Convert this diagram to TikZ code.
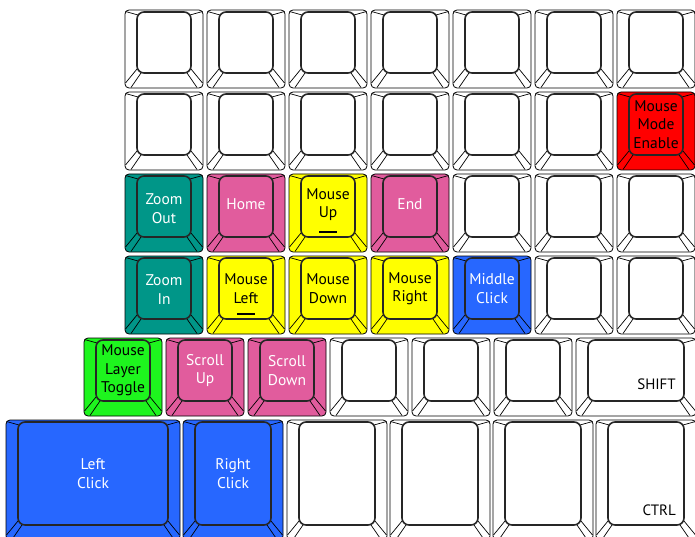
\documentclass[tikz,border=0pt]{standalone}
\usepackage{fontspec}
\setmainfont{PT Sans}
\usetikzlibrary{calc}
\definecolor{capteal}{HTML}{009688}
\definecolor{cappink}{HTML}{E15C9D}
\definecolor{capyellow}{HTML}{FFFF00}
\definecolor{capblue}{HTML}{2767FF}
\definecolor{capred}{HTML}{FF0000}
\definecolor{capgreen}{HTML}{1EF51E}
\tikzset{
  capedge/.style={draw=black, line width=0.8pt, rounded corners=4pt},
  captop/.style={draw=black!85, line width=1.6pt, rounded corners=7pt},
  capfacet/.style={draw=black, line width=0.7pt},
  keylabel/.style={align=center, inner sep=0pt, font=\fontsize{15.5}{18.5}\selectfont},
  modlabel/.style={anchor=east, inner sep=0pt, font=\fontsize{15}{16}\selectfont},
  homebar/.style={line width=2pt},
}
% one keycap: x, y, width, height, colour, name
\newcommand{\keycap}[6]{%
  \begin{scope}[shift={(#1,#2)}]
    \path[capedge, fill=#5] (0,0) rectangle (#3,#4);
    \draw[capfacet] (0.5,1.5) -- (13,5) (#3-0.5,1.5) -- (#3-13,5)
      (12,#4-19) -- (0.5,#4-5) (16,#4-15) -- (6,#4-0.5)
      (#3-12,#4-19) -- (#3-0.5,#4-5) (#3-16,#4-15) -- (#3-6,#4-0.5);
    \path[captop, fill=#5] (12,2) rectangle (#3-12,#4-15);
    \coordinate (#6) at (#3/2,#4/2-6.5);
    \coordinate (#6-corner) at (#3-20,#4-32);
  \end{scope}}

\begin{document}
\begin{tikzpicture}[x=1pt, y=-1pt]
  \path[use as bounding box] (0,0) rectangle (695,537);
  \clip (0,0) rectangle (695,537);

  % top two rows
  \foreach \kx [count=\i] in {125,207,289,371,453,535}{
    \keycap{\kx}{10}{78}{78}{white}{r1c\i}
    \keycap{\kx}{92}{78}{78}{white}{r2c\i}
  }
  \keycap{617}{10}{78}{78}{white}{r1c7}
  \keycap{617}{92}{78}{78}{capred}{mousemode}

  % mouse keys
  \foreach \kx/\kcol/\kname in {125/capteal/zoomout, 207/cappink/home,
      289/capyellow/mouseup, 371/cappink/end, 453/white/r3c5,
      535/white/r3c6, 617/white/r3c7}
    \keycap{\kx}{174}{78}{78}{\kcol}{\kname};
  \foreach \kx/\kcol/\kname in {125/capteal/zoomin, 207/capyellow/mouseleft,
      289/capyellow/mousedown, 371/capyellow/mouseright, 453/capblue/middleclick,
      535/white/r4c6, 617/white/r4c7}
    \keycap{\kx}{256}{78}{78}{\kcol}{\kname};
  \foreach \kx/\kcol/\kname in {84/capgreen/layertoggle, 166/cappink/scrollup,
      248/cappink/scrolldown, 330/white/r5c4, 412/white/r5c5, 494/white/r5c6}
    \keycap{\kx}{338}{78}{78}{\kcol}{\kname};
  \keycap{576}{338}{120}{78}{white}{shift}

  % bottom row
  \keycap{6}{420}{174}{120}{capblue}{leftclick}
  \keycap{183}{420}{100}{120}{capblue}{rightclick}
  \foreach \kx [count=\i] in {287,390,493}
    \keycap{\kx}{420}{100}{120}{white}{r6c\i};
  \keycap{596}{420}{100}{120}{white}{ctrl}

  % labels
  \node[keylabel] (mousemodetext) at (mousemode) {Mouse\\Mode\\Enable};
  \node[keylabel, text=white] (zoomouttext) at ($(zoomout)+(0,2)$) {Zoom\\Out};
  \node[keylabel, text=white] (hometext) at ($(home)+(0,-2)$) {Home};
  \node[keylabel] (mouseuptext) at ($(mouseup)+(0,-2)$) {Mouse\\Up};
  \node[keylabel, text=white] (endtext) at ($(end)+(0,-2)$) {End};
  \node[keylabel, text=white] (zoomintext) at ($(zoomin)+(0,1)$) {Zoom\\In};
  \node[keylabel] (mouselefttext) at (mouseleft) {Mouse\\Left};
  \node[keylabel] (mousedowntext) at (mousedown) {Mouse\\Down};
  \node[keylabel] (mouserighttext) at (mouseright) {Mouse\\Right};
  \node[keylabel, text=white] (middleclicktext) at (middleclick) {Middle\\Click};
  \node[keylabel] (layertoggletext) at (layertoggle) {Mouse\\Layer\\Toggle};
  \node[keylabel, text=white] (scrolluptext) at (scrollup) {Scroll\\Up};
  \node[keylabel, text=white] (scrolldowntext) at (scrolldown) {Scroll\\Down};
  \node[keylabel, text=white] (leftclicktext) at (leftclick) {Left\\Click};
  \node[keylabel, text=white] (rightclicktext) at (rightclick) {Right\\Click};
  \node[modlabel] (shifttext) at (shift-corner) {SHIFT};
  \node[modlabel] (ctrltext) at ($(ctrl-corner)+(0,2)$) {CTRL};

  % homing bars
  \draw[homebar] ($(mouseup)+(-9,25)$) -- ($(mouseup)+(9,25)$);
  \draw[homebar] ($(mouseleft)+(-9,25)$) -- ($(mouseleft)+(9,25)$);
\end{tikzpicture}
\end{document}
